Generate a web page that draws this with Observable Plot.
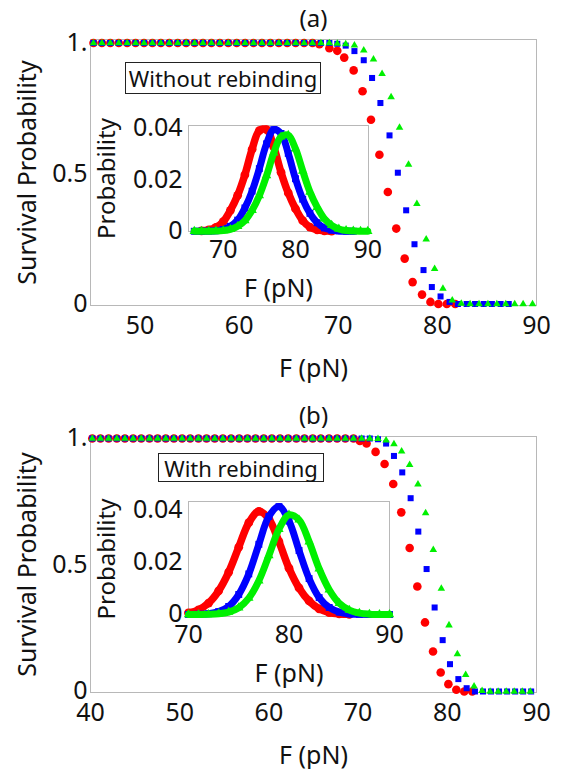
<!DOCTYPE html>
<html><head><meta charset="utf-8">
<script src="https://cdn.jsdelivr.net/npm/d3@7"></script>
<script src="https://cdn.jsdelivr.net/npm/@observablehq/plot@0.6"></script>
<style>
html,body{margin:0;padding:0;background:#fff;}
#fig{position:relative;width:569px;height:769px;font-family:"Noto Sans",sans-serif;color:#111;overflow:hidden;}
#fig > *{position:absolute;}
.box{border:1.5px solid #222;font-size:22px;line-height:1;box-sizing:border-box;white-space:nowrap;display:flex;align-items:center;justify-content:center;background:#fff;color:#111;}
</style></head><body><div id="fig"></div>
<script>
// ---------- text ----------
const titles = ["(a)", "(b)"];
const boxLabels = ["Without rebinding", "With rebinding"];
const xLabel = "F (pN)";
const survLabel = "Survival Probability";
const probLabel = "Probability";

// ---------- ticks ----------
const mainAXTicks = [50, 60, 70, 80, 90];
const mainBXTicks = [40, 50, 60, 70, 80, 90];
const survTicks = [0, 0.5, 1];
const survTickLabels = ["0", "0.5", "1."];
const insetXTicks = [70, 80, 90];
const probTicks = [0, 0.02, 0.04];
const probTickLabels = ["0", "0.02", "0.04"];

// ---------- panel (a): survival probability, without rebinding ----------
const aRedF = [45.3,46.15,47,47.85,48.7,49.55,50.4,51.25,52.1,52.95,53.8,54.65,55.5,56.35,57.2,58.05,58.9,59.75,60.6,61.45,62.3,63.15,64,64.85,65.7,66.55,67.4,68.1,69.1,69.9,70.6,71.55,72.45,73.3,74.15,75,75.85,76.7,77.5,78.45,79.3,80.1,80.95,81.8];
const aRedS = [1,1,1,1,1,1,1,1,1,1,1,1,1,1,1,1,1,1,1,1,1,1,1,1,1,1,1,0.995,0.98,0.97,0.944,0.895,0.815,0.706,0.572,0.429,0.289,0.174,0.084,0.036,0.008,0,0,0];
const aBlueF = [45.3,46.15,47,47.85,48.7,49.55,50.4,51.25,52.1,52.95,53.8,54.65,55.5,56.35,57.2,58.05,58.9,59.75,60.6,61.45,62.3,63.15,64,64.85,65.7,66.55,67.4,68.25,69.1,69.9,70.75,71.63,72.57,73.41,74.25,75.17,76.01,76.85,77.69,78.6,79.44,80.32,81.23,82.07,82.95,83.8,84.67,85.5,86.38,87.2];
const aBlueS = [1,1,1,1,1,1,1,1,1,1,1,1,1,1,1,1,1,1,1,1,1,1,1,1,1,1,1,1,1,0.997,0.99,0.969,0.934,0.866,0.77,0.646,0.503,0.359,0.229,0.13,0.065,0.029,0.008,0,0,0,0,0,0,0];
const aGreenF = [45.3,46.15,47,47.85,48.7,49.55,50.4,51.25,52.1,52.95,53.8,54.65,55.5,56.35,57.2,58.05,58.9,59.75,60.6,61.45,62.3,63.15,64,64.85,65.7,66.55,67.4,68.25,69.1,69.9,70.75,71.63,72.57,73.55,74.42,75.33,76.18,77.09,77.93,78.87,79.72,80.56,81.5,82.41,83.3,84.2,85.1,86,86.9,87.8,88.65,89.6];
const aGreenS = [1,1,1,1,1,1,1,1,1,1,1,1,1,1,1,1,1,1,1,1,1,1,1,1,1,1,1,1,1,0.998,0.996,0.991,0.972,0.937,0.882,0.793,0.676,0.534,0.384,0.248,0.135,0.059,0.014,0.002,0,0,0,0,0,0,0,0];

// ---------- panel (b): survival probability, with rebinding ----------
const bRedF = [40.2,41.12,42.03,42.95,43.86,44.78,45.69,46.61,47.52,48.44,49.35,50.27,51.18,52.1,53.01,53.93,54.84,55.76,56.67,57.59,58.5,59.42,60.33,61.25,62.16,63.08,63.99,64.91,65.82,66.74,67.65,68.57,69.48,70.2,70.95,71.96,72.97,73.94,74.84,75.78,76.64,77.5,78.4,79.26,80.12,81.01,81.9,82.8];
const bRedS = [1,1,1,1,1,1,1,1,1,1,1,1,1,1,1,1,1,1,1,1,1,1,1,1,1,1,1,1,1,1,1,1,1,0.99,0.98,0.947,0.899,0.82,0.708,0.567,0.415,0.273,0.158,0.075,0.029,0.007,0,0];
const bBlueF = [40.2,41.12,42.03,42.95,43.86,44.78,45.69,46.61,47.52,48.44,49.35,50.27,51.18,52.1,53.01,53.93,54.84,55.76,56.67,57.59,58.5,59.42,60.33,61.25,62.16,63.08,63.99,64.91,65.82,66.74,67.65,68.57,69.48,70.4,71.31,72.23,73.14,74.02,74.95,75.89,76.75,77.68,78.58,79.48,80.3,81.24,82.17,83.1,84,84.9,85.8,86.7,87.6,88.5,89.4];
const bBlueS = [1,1,1,1,1,1,1,1,1,1,1,1,1,1,1,1,1,1,1,1,1,1,1,1,1,1,1,1,1,1,1,1,1,1,1,0.997,0.98,0.931,0.866,0.764,0.632,0.484,0.332,0.203,0.108,0.049,0.013,0,0,0,0,0,0,0,0];
const bGreenF = [40.2,41.12,42.03,42.95,43.86,44.78,45.69,46.61,47.52,48.44,49.35,50.27,51.18,52.1,53.01,53.93,54.84,55.76,56.67,57.59,58.5,59.42,60.33,61.25,62.16,63.08,63.99,64.91,65.82,66.74,67.65,68.57,69.48,70.4,71.31,72.23,73.14,74.02,74.88,75.78,76.71,77.57,78.43,79.33,80.19,81.13,82.06,83,83.9,84.8,85.7,86.6,87.5,88.4,89.3];
const bGreenS = [1,1,1,1,1,1,1,1,1,1,1,1,1,1,1,1,1,1,1,1,1,1,1,1,1,1,1,1,1,1,1,1,1,1,1,0.999,0.993,0.978,0.949,0.896,0.819,0.705,0.56,0.407,0.262,0.148,0.066,0.02,0.003,0,0,0,0,0,0];

// ---------- inset (a): rupture-force probability ----------
const iaRedF = [67,68,69,70,71,72,73,74,75,76,77,78,79,80,81,82,83,84,85];
const iaRedP = [0.00016,0.0005,0.0015,0.0037,0.0081,0.0139,0.0218,0.0317,0.0389,0.0393,0.0326,0.0228,0.0148,0.0087,0.0041,0.0016,0.00056,0.00016,0.00004];
const iaBlueF = [66,67,68,69,70,71,72,73,74,75,76,77,78,79,80,81,82,83,84,85,86,87,88];
const iaBlueP = [0,0.00002,0.00005,0.0002,0.00066,0.0019,0.0043,0.009,0.0155,0.0242,0.0338,0.0393,0.0378,0.0301,0.0203,0.0124,0.0069,0.0033,0.00126,0.00041,0.00012,0.00003,0];
const iaGreenF = [66,67,68,69,70,71,72,73,74,75,76,77,78,79,80,81,82,83,84,85,86,87,88,89,90];
const iaGreenP = [0,0,0.00002,0.00007,0.00024,0.00072,0.0019,0.0041,0.0081,0.0138,0.0215,0.0303,0.0365,0.0371,0.0319,0.0233,0.0152,0.0093,0.0048,0.0023,0.00088,0.0003,0.0001,0.00003,0];

// ---------- inset (b) ----------
const ibRedF = [70,71,72,73,74,75,76,77,78,79,80,81,82,83,84,85,86];
const ibRedP = [0.0006,0.0018,0.0044,0.0091,0.0163,0.0259,0.0353,0.0397,0.0367,0.028,0.0178,0.0102,0.0052,0.0022,0.00075,0.00022,0.00006];
const ibBlueF = [70,71,72,73,74,75,76,77,78,79,80,81,82,83,84,85,86,87,88,89,90];
const ibBlueP = [0.00001,0.00007,0.0003,0.0011,0.0031,0.0077,0.0156,0.027,0.0377,0.0415,0.0359,0.0246,0.0138,0.0065,0.0027,0.0009,0.00023,0.00005,0,0,0];
const ibGreenF = [70,71,72,73,74,75,76,77,78,79,80,81,82,83,84,85,86,87,88,89,90];
const ibGreenP = [0,0.00001,0.00006,0.00027,0.00094,0.0026,0.0063,0.013,0.0227,0.0328,0.0383,0.0364,0.028,0.0176,0.0095,0.0043,0.0017,0.00052,0.00013,0.00003,0];

// ---------- helpers ----------
const RED = "#ff0000", BLUE = "#0000ff", GREEN = "#00f000";
const FONT = "'Noto Sans', sans-serif";
const FRAME = "#b8b8b8";
const rows = (xs, ys) => xs.map((x, i) => ({x, y: ys[i]}));
const fig = document.getElementById("fig");
function place(el, left, top) { el.style.left = left + "px"; el.style.top = top + "px"; fig.appendChild(el); return el; }

function mainPanel(o) {
  return Plot.plot({
    width: 569, height: o.height,
    marginLeft: 90, marginRight: 33, marginTop: o.mt, marginBottom: o.mb,
    style: {fontFamily: FONT, fontSize: "25px", background: "transparent", color: "#111", overflow: "visible"},
    x: {domain: o.xDomain},
    y: {domain: o.yDomain},
    marks: [
      Plot.frame({stroke: FRAME}),
      Plot.axisX(o.xTicks, {tickSize: 0, tickPadding: 11, label: null, fontSize: 25}),
      Plot.axisY(survTicks, {tickSize: 0, tickPadding: 3, label: null, fontSize: 25,
        tickFormat: d => survTickLabels[survTicks.indexOf(d)]}),
      Plot.dot(o.red, {x: "x", y: "y", r: 4.3, fill: RED, symbol: "circle"}),
      Plot.dot(o.blue, {x: "x", y: "y", r: 3.4, fill: BLUE, symbol: "square"}),
      Plot.dot(o.green, {x: "x", y: "y", r: 2.8, fill: GREEN, symbol: "triangle"}),
      Plot.text([o.title], {text: d => d, frameAnchor: "top", dy: -20, fontSize: 24, lineAnchor: "middle", textAnchor: "middle"}),
      Plot.text([xLabel], {text: d => d, frameAnchor: "bottom", dy: 63, fontSize: 25, lineAnchor: "middle", textAnchor: "middle"}),
      Plot.text([survLabel], {text: d => d, frameAnchor: "left", dx: -63, rotate: -90, fontSize: 25, lineAnchor: "middle", textAnchor: "middle"})
    ]
  });
}

function insetPanel(o) {
  return Plot.plot({
    width: o.width, height: o.height,
    marginLeft: o.ml, marginRight: o.mr, marginTop: o.mt, marginBottom: o.mb,
    style: {fontFamily: FONT, fontSize: "25px", background: "transparent", color: "#111", overflow: "visible"},
    x: {domain: o.xDomain},
    y: {domain: o.yDomain},
    marks: [
      Plot.frame({stroke: FRAME, fill: "white"}),
      Plot.axisX(insetXTicks, {tickSize: 0, tickPadding: 9, label: null, fontSize: 25}),
      Plot.axisY(probTicks, {tickSize: 0, tickPadding: 6, label: null, fontSize: 25,
        tickFormat: d => probTickLabels[probTicks.indexOf(d)]}),
      Plot.line(o.red, {x: "x", y: "y", stroke: RED, strokeWidth: 7.5, curve: "catmull-rom"}),
      Plot.dot(o.red, {x: "x", y: "y", r: 4.4, fill: RED, symbol: "circle"}),
      Plot.line(o.blue, {x: "x", y: "y", stroke: BLUE, strokeWidth: 7, curve: "catmull-rom"}),
      Plot.dot(o.blue, {x: "x", y: "y", r: 3.9, fill: BLUE, symbol: "square"}),
      Plot.line(o.green, {x: "x", y: "y", stroke: GREEN, strokeWidth: 7, curve: "catmull-rom"}),
      Plot.dot(o.green, {x: "x", y: "y", r: 3.5, fill: GREEN, symbol: "triangle"}),
      Plot.text([xLabel], {text: d => d, frameAnchor: "bottom", dy: 57, fontSize: 25, lineAnchor: "middle", textAnchor: "middle"}),
      Plot.text([probLabel], {text: d => d, frameAnchor: "left", dx: -81, rotate: -90, fontSize: 24, lineAnchor: "middle", textAnchor: "middle"})
    ]
  });
}

function box(text, left, top, w, h) {
  const d = document.createElement("div");
  d.className = "box";
  d.textContent = text;
  d.style.width = w + "px"; d.style.height = h + "px";
  return place(d, left, top);
}

// ---------- panel (a) ----------
place(mainPanel({
  height: 390, mt: 39, mb: 85,
  xDomain: [45, 90], yDomain: [-0.0057, 1.0134], xTicks: mainAXTicks, title: titles[0],
  red: rows(aRedF, aRedS), blue: rows(aBlueF, aBlueS), green: rows(aGreenF, aGreenS)
}), 0, 0);
place(insetPanel({
  width: 400, height: 230, ml: 188, mr: 32, mt: 35, mb: 89,
  xDomain: [65.2, 90.1], yDomain: [-0.0001, 0.04088],
  red: rows(iaRedF, iaRedP), blue: rows(iaBlueF, iaBlueP), green: rows(iaGreenF, iaGreenP)
}), 0, 90);
box(boxLabels[0], 125, 62, 196, 32);

// ---------- panel (b) ----------
place(mainPanel({
  height: 379, mt: 46, mb: 77,
  xDomain: [40, 90], yDomain: [-0.004, 1.0079], xTicks: mainBXTicks, title: titles[1],
  red: rows(bRedF, bRedS), blue: rows(bBlueF, bBlueS), green: rows(bGreenF, bGreenS)
}), 0, 390);
place(insetPanel({
  width: 420, height: 230, ml: 188, mr: 31, mt: 31, mb: 84,
  xDomain: [70, 90], yDomain: [-0.00077, 0.04346],
  red: rows(ibRedF, ibRedP), blue: rows(ibBlueF, ibBlueP), green: rows(ibGreenF, ibGreenP)
}), 0, 470);
box(boxLabels[1], 158, 453, 166, 29);
</script></body></html>
